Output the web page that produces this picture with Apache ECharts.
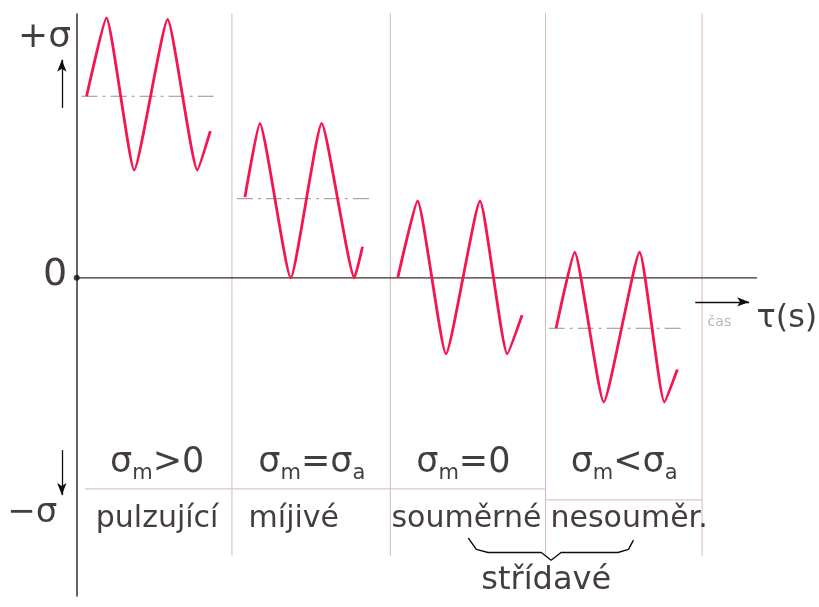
<!DOCTYPE html>
<html>
<head>
<meta charset="utf-8">
<script src="https://cdn.jsdelivr.net/npm/echarts@6/dist/echarts.min.js"></script>
<style>html,body{margin:0;padding:0;background:#fff}#c{width:819px;height:607px}</style>
</head>
<body>
<div id="c"></div>
<script>
// ---- data (time t, stress sigma) ----
const wave1 = [[0.16,2.34],[0.48,3.35],[0.93,1.39],[1.47,3.33],[1.95,1.39],[2.16,1.89]];
const wave2 = [[2.72,1.04],[2.96,1.99],[3.46,0.0],[3.96,1.99],[4.49,0.0],[4.62,0.40]];
const wave3 = [[5.19,0.0],[5.51,0.99],[5.97,-0.98],[6.52,0.99],[6.96,-0.98],[7.20,-0.48]];
const wave4 = [[7.75,-0.65],[8.05,0.33],[8.52,-1.60],[9.10,0.33],[9.50,-1.60],[9.71,-1.18]];
const meanStress = [2.34, 1.02, 0.0, -0.65];
const meanStart = [0.08, 2.59, 5.19, 7.63];
const meanEnd = [2.29, 4.75, 7.20, 9.79];
const dividers = [2.51, 5.07, 7.58, 10.11];
const conditions = ['σ_m>0', 'σ_m=σ_a', 'σ_m=0', 'σ_m<σ_a'];
const cycleNames = ['pulzující', 'míjivé', 'souměrné', 'nesouměr.'];
const groupName = 'střídavé';
const axisLabels = ['+σ', '0', '−σ'];
const timeLabel = 'τ(s)';
const timeWord = 'čas';

// ---- layout (positions in data units) ----
const condX = [1.30, 3.80, 6.25, 8.85];
const nameX = [1.30, 3.51, 6.30, 8.93];
const condY = -2.39, nameY = -3.11;
const FONT = "'DejaVu Sans',sans-serif";
const WAVE = '#f5154f';
const INK = '#140c0c';
const FAINT = '#d2b9b9';

const series = [];
[wave1, wave2, wave3, wave4].forEach(w => series.push({
  type: 'line', data: w, smooth: 0.15, symbol: 'none', silent: true, z: 5,
  lineStyle: { color: WAVE, width: 2.8 }
}));
meanStress.forEach((m, i) => {
  if (m === 0) return;
  series.push({ type: 'line', symbol: 'none', silent: true, z: 3,
    data: [[meanStart[i], m], [meanEnd[i], m]],
    lineStyle: { color: '#a08c8c', width: 1, type: [16, 5, 3, 5] } });
});
dividers.forEach(d => series.push({ type: 'line', symbol: 'none', silent: true, z: 1,
  data: [[d, 3.45], [d, -3.58]], lineStyle: { color: FAINT, width: 1 } }));
// table rule
series.push({ type: 'line', symbol: 'none', silent: true, z: 1,
  data: [[0.13, -2.72], [7.58, -2.72]], lineStyle: { color: '#dcc4c4', width: 1.2 } });
series.push({ type: 'line', symbol: 'none', silent: true, z: 1,
  data: [[7.58, -2.86], [10.11, -2.86]], lineStyle: { color: '#dcc4c4', width: 1.2 } });
// brace under "souměrné / nesouměr."
series.push({ type: 'line', symbol: 'none', silent: true, z: 2,
  data: [[6.33,-3.35],[6.46,-3.50],[6.65,-3.54],[7.51,-3.54],[7.67,-3.64],[7.83,-3.54],[8.75,-3.54],[8.92,-3.50],[9.00,-3.38]],
  lineStyle: { color: INK, width: 1.4 } });
// zero line, arrows, origin dot
series.push({ type: 'line', symbol: 'none', silent: true, z: 4,
  data: [[0, 0], [11.0, 0]], lineStyle: { color: '#3a2e2e', width: 1.4 },
  markLine: { silent: true, symbol: ['none', 'arrow'], symbolSize: [7, 12], label: { show: false },
    lineStyle: { color: INK, width: 1.3, type: 'solid' },
    data: [
      [{ coord: [10.0, -0.31] }, { coord: [10.87, -0.31] }],
      [{ coord: [-0.24, 2.19] }, { coord: [-0.24, 2.81] }],
      [{ coord: [-0.24, -2.22] }, { coord: [-0.24, -2.80] }]
    ] } });
series.push({ type: 'scatter', silent: true, z: 6, data: [[0, 0]], symbolSize: 6,
  itemStyle: { color: '#1a1414' } });

function rich(s) { return s.replace(/_(\w)/g, '{s|$1}'); }
// text labels
const txt = (x, y, text, style) => ({ value: [x, y], label: Object.assign({ formatter: text }, style) });
const labelData = [];
conditions.forEach((c, i) => labelData.push(txt(condX[i], condY, rich(c), { fontSize: 35, lineHeight: 42 })));
cycleNames.forEach((n, i) => labelData.push(txt(nameX[i], nameY, n, { fontSize: 30 })));
labelData.push(txt(7.59, -3.90, groupName, { fontSize: 32 }));
labelData.push(txt(-0.52, 3.09, axisLabels[0], { fontSize: 36 }));
labelData.push(txt(-0.35, 0.04, axisLabels[1], { fontSize: 38 }));
labelData.push(txt(-0.72, -3.03, axisLabels[2], { fontSize: 34 }));
labelData.push(txt(11.48, -0.52, timeLabel, { fontSize: 32 }));
labelData.push(txt(10.39, -0.57, timeWord, { fontSize: 14, color: '#b09c9c' }));
series.push({ type: 'scatter', silent: true, z: 7, symbolSize: 0, clip: false, data: labelData,
  label: { show: true, position: 'inside', color: INK, fontFamily: FONT, textBorderWidth: 0, textBorderColor: 'transparent',
    rich: { s: { fontSize: 21, lineHeight: 21, verticalAlign: 'bottom', fontFamily: FONT, color: INK, textBorderWidth: 0 } } } });

const chart = echarts.init(document.getElementById('c'), null, { renderer: 'canvas' });
chart.setOption({
  backgroundColor: '#ffffff',
  animation: false,
  grid: { left: 0, top: 14, width: 822, height: 582, containLabel: false },
  xAxis: { type: 'value', min: -1.24, max: 12.0, axisLine: { show: false }, axisTick: { show: false },
    axisLabel: { show: false }, splitLine: { show: false } },
  yAxis: { type: 'value', min: -4.1, max: 3.4, axisLine: { show: true, onZero: true, lineStyle: { color: '#3a2e2e', width: 1.5 } },
    axisTick: { show: false }, axisLabel: { show: false }, splitLine: { show: false } },
  series: series
});
</script>
</body>
</html>
